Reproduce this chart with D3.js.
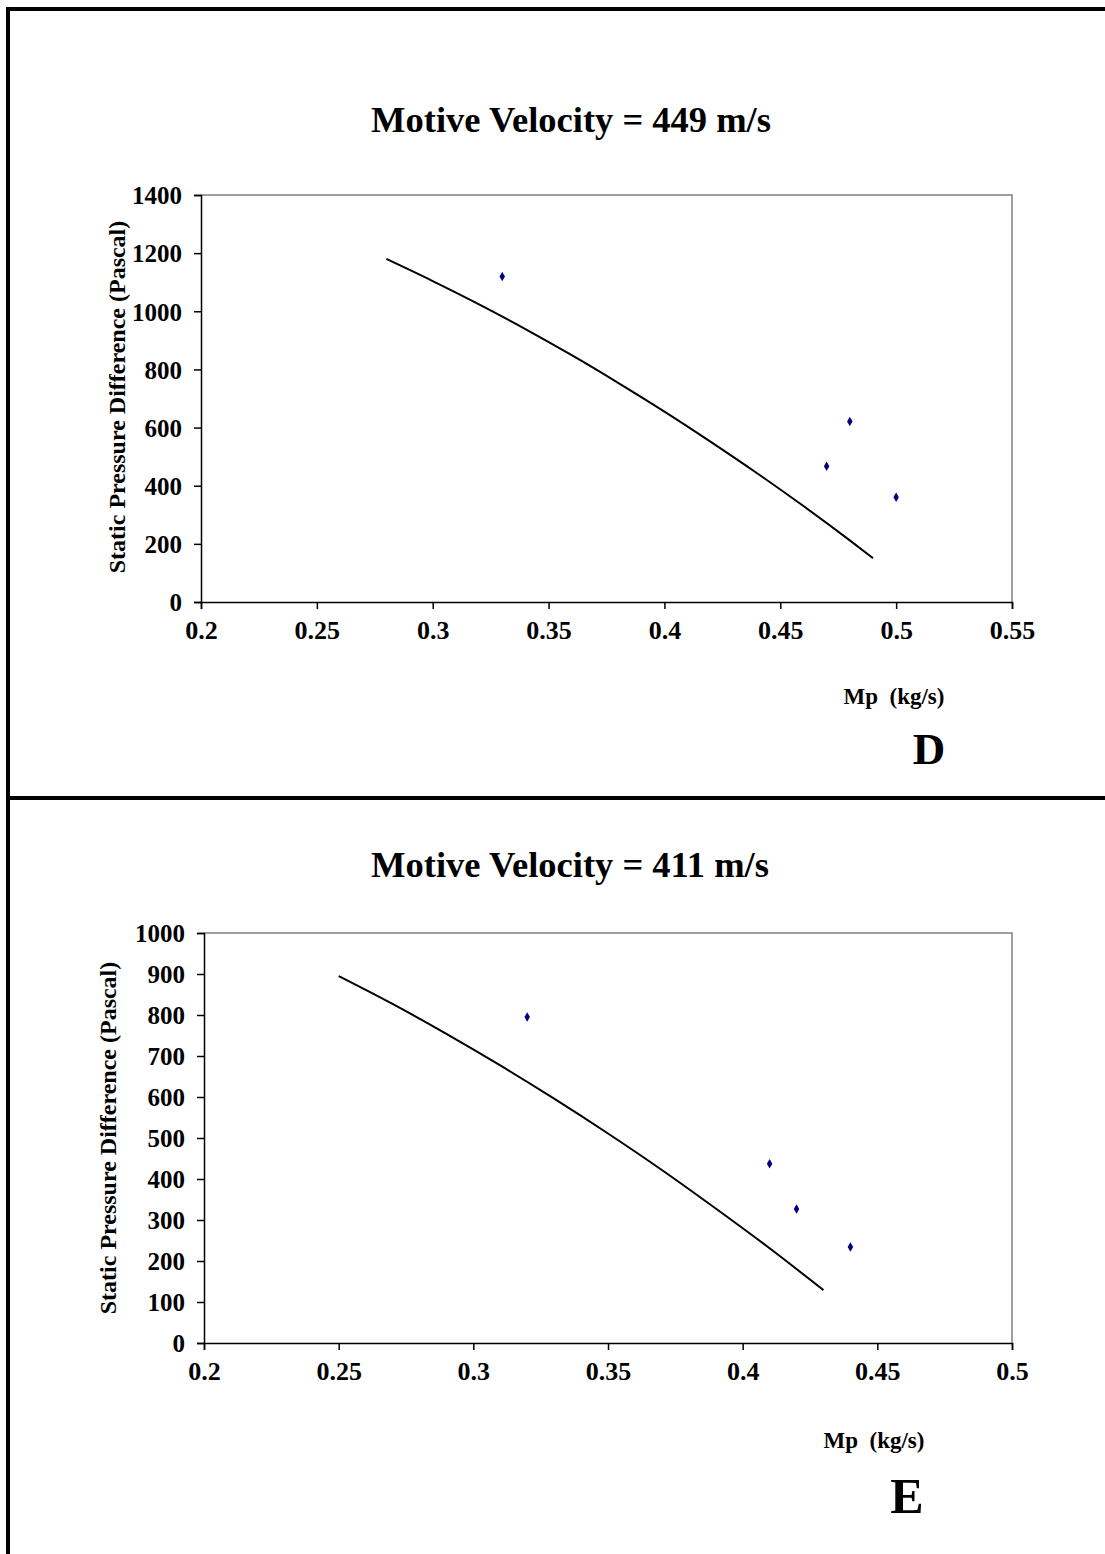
<!DOCTYPE html>
<html>
<head>
<meta charset="utf-8">
<script src="https://cdn.jsdelivr.net/npm/d3@7"></script>
<style>
  body { margin: 0; background: #fff; }
  text { font-family: "Liberation Serif", "Times New Roman", serif; font-weight: bold; }
</style>
</head>
<body>
<svg id="chart" width="1105" height="1554"></svg>
<script>
// panel D data
const dPointsX = [0.33, 0.47, 0.48, 0.50];
const dPointsY = [1120, 467, 621, 360];
const dCurveX = [0.28, 0.30, 0.32, 0.34, 0.36, 0.38, 0.40, 0.42, 0.44, 0.46, 0.48, 0.49];
const dCurveY = [1180, 1104, 1024, 939, 849, 754, 655, 551, 443, 330, 212, 151];
const dXTicks = [0.2, 0.25, 0.3, 0.35, 0.4, 0.45, 0.5, 0.55];
const dYTicks = [0, 200, 400, 600, 800, 1000, 1200, 1400];

// panel E data
const ePointsX = [0.32, 0.41, 0.42, 0.44];
const ePointsY = [795, 437, 327, 234];
const eCurveX = [0.25, 0.27, 0.29, 0.31, 0.33, 0.35, 0.37, 0.39, 0.41, 0.43];
const eCurveY = [895, 827, 754, 677, 596, 511, 422, 328, 231, 129];
const eXTicks = [0.2, 0.25, 0.3, 0.35, 0.4, 0.45, 0.5];
const eYTicks = [0, 100, 200, 300, 400, 500, 600, 700, 800, 900, 1000];

const FONT = '"Liberation Serif", "Times New Roman", serif';
const svg = d3.select('#chart');

// frame lines around the panels
svg.append('path')
    .attr('d', 'M8,1554 L8,9 L1105,9 M8,798 L1105,798')
    .attr('fill', 'none')
    .attr('stroke', '#000')
    .attr('stroke-width', 4);

function drawPanel(opts) {
    const { px, py, xTicks, yTicks, curveX, curveY, pointsX, pointsY } = opts;

    const x = d3.scaleLinear().domain(d3.extent(xTicks)).range(px);
    const y = d3.scaleLinear().domain(d3.extent(yTicks)).range(py);

    // plot area outline (top + right, grey)
    svg.append('path')
        .attr('d', `M${px[0]},${py[1]} L${px[1]},${py[1]} L${px[1]},${py[0]}`)
        .attr('fill', 'none')
        .attr('stroke', '#808080')
        .attr('stroke-width', 1.5);

    const xAxis = svg.append('g')
        .attr('transform', `translate(0,${py[0]})`)
        .call(d3.axisBottom(x).tickValues(xTicks).tickSize(7).tickPadding(12).tickFormat(d3.format('')));
    const yAxis = svg.append('g')
        .attr('transform', `translate(${px[0]},0)`)
        .call(d3.axisLeft(y).tickValues(yTicks).tickSize(7).tickPadding(12).tickFormat(d3.format('')));

    [xAxis, yAxis].forEach((g) => {
        g.attr('font-family', FONT).attr('font-size', 25).attr('font-weight', 'bold');
        g.select('.domain').attr('stroke', '#000').attr('stroke-width', 1.5);
        g.selectAll('.tick line').attr('stroke', '#000').attr('stroke-width', 1.5);
        g.selectAll('.tick text').attr('fill', '#000');
    });
    xAxis.attr('font-size', 26);
    yAxis.selectAll('.tick text').attr('dy', '0.35em');

    const curve = curveX.map((d, i) => [d, curveY[i]]);
    svg.append('path')
        .datum(curve)
        .attr('fill', 'none')
        .attr('stroke', '#000')
        .attr('stroke-width', 2)
        .attr('d', d3.line().x((d) => x(d[0])).y((d) => y(d[1])).curve(d3.curveMonotoneX));

    const pts = pointsX.map((d, i) => [d, pointsY[i]]);
    svg.append('g').selectAll('path')
        .data(pts)
        .join('path')
        .attr('transform', (d) => `translate(${x(d[0])},${y(d[1])})`)
        .attr('d', d3.symbol(d3.symbolDiamond, 26))
        .attr('fill', '#000080');

    // texts
    svg.append('text')
        .attr('x', opts.titleX).attr('y', opts.titleY)
        .attr('text-anchor', 'middle')
        .style('font-size', '36.5px')
        .text(opts.title);
    svg.append('text')
        .attr('transform', `translate(${opts.yLabelX},${opts.yLabelY}) rotate(-90)`)
        .attr('text-anchor', 'middle')
        .style('font-size', '24px')
        .text('Static Pressure Difference (Pascal)');
    svg.append('text')
        .attr('x', opts.xLabelX).attr('y', opts.xLabelY)
        .attr('text-anchor', 'middle')
        .attr('xml:space', 'preserve')
        .style('font-size', '23px')
        .text('Mp  (kg/s)');
    svg.append('text')
        .attr('x', opts.letterX).attr('y', opts.letterY)
        .attr('text-anchor', 'middle')
        .style('font-size', opts.letterSize + 'px')
        .text(opts.letter);
}

drawPanel({
    px: [201, 1012], py: [602, 195],
    xTicks: dXTicks, yTicks: dYTicks,
    curveX: dCurveX, curveY: dCurveY, pointsX: dPointsX, pointsY: dPointsY,
    title: 'Motive Velocity = 449 m/s', titleX: 571, titleY: 132,
    yLabelX: 125, yLabelY: 397,
    xLabelX: 894, xLabelY: 704,
    letter: 'D', letterX: 929, letterY: 764, letterSize: 45
});

drawPanel({
    px: [204, 1012], py: [1343, 933],
    xTicks: eXTicks, yTicks: eYTicks,
    curveX: eCurveX, curveY: eCurveY, pointsX: ePointsX, pointsY: ePointsY,
    title: 'Motive Velocity = 411 m/s', titleX: 570, titleY: 877,
    yLabelX: 116, yLabelY: 1138,
    xLabelX: 874, xLabelY: 1448,
    letter: 'E', letterX: 907, letterY: 1513, letterSize: 50
});
</script>
</body>
</html>
